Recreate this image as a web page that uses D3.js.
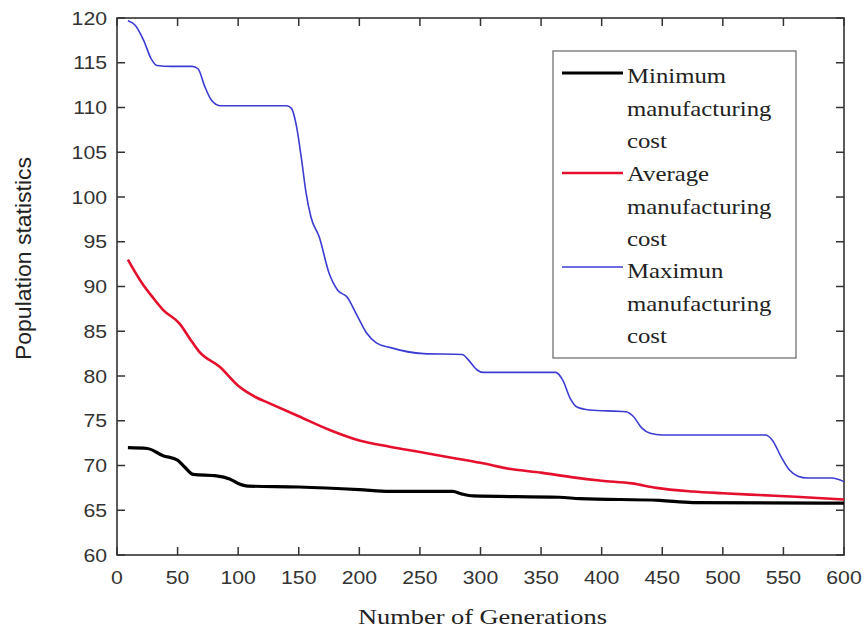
<!DOCTYPE html>
<html><head><meta charset="utf-8">
<script src="https://cdn.jsdelivr.net/npm/d3@7/dist/d3.min.js"></script>
<style>body{margin:0;background:#fff}</style>
</head><body><svg id="c" width="866" height="633"></svg>
<script>
// ---- data ----
const xTicks = [0,50,100,150,200,250,300,350,400,450,500,550,600];
const yTicks = [60,65,70,75,80,85,90,95,100,105,110,115,120];

const minGen = [9,25,38,50,56,63,82,93,100,108,150,200,225,277,285,294,365,382,448,475,600];
const minVal = [72.0,71.9,71.1,70.6,69.8,69.0,68.85,68.5,68.0,67.7,67.6,67.3,67.1,67.1,66.8,66.6,66.45,66.3,66.1,65.85,65.8];

const avgGen = [9,20,30,38,52,60,68,85,100,115,125,150,175,200,225,250,275,300,325,350,375,400,425,445,475,500,530,560,600];
const avgVal = [93.0,90.5,88.7,87.4,85.8,84.2,82.7,81.0,78.9,77.6,77.0,75.5,74.0,72.8,72.1,71.5,70.9,70.3,69.6,69.2,68.7,68.3,68.0,67.5,67.1,66.9,66.7,66.5,66.2];

const maxGen = [9,15,22,28,33,45,62,67,72,78,85,140,144,148,152,156,160,167,175,182,190,198,206,214,225,253,285,290,297,302,362,368,374,380,390,420,426,433,440,450,535,541,548,555,562,570,590,600];
const maxVal = [119.7,119.2,117.5,115.5,114.7,114.6,114.6,114.3,112.5,110.8,110.2,110.2,109.9,108,104.5,100.5,97.8,95.5,91.5,89.6,88.8,86.8,84.8,83.7,83.2,82.5,82.4,81.8,80.7,80.4,80.4,79.5,77.5,76.5,76.2,76.0,75.5,74.2,73.6,73.4,73.4,72.8,71,69.5,68.8,68.6,68.6,68.2];

const seriesNames = [["Minimum","manufacturing","cost"],["Average","manufacturing","cost"],["Maximun","manufacturing","cost"]];
const seriesColors = ["#000000","#e5102e","#3c3cd2"];
const seriesWidths = [3.2,2.6,1.6];

// ---- layout ----
const L=117,R=844,T=18,B=555, SX=1.18;
const svg=d3.select("#c");
const x=d3.scaleLinear().domain([0,600]).range([L,R]);
const y=d3.scaleLinear().domain([60,120]).range([B,T]);
const tickFont="'Liberation Sans', Arial, sans-serif";
const serif="'Liberation Serif','Times New Roman',serif";

// frame
svg.append("rect").attr("x",L).attr("y",T).attr("width",R-L).attr("height",B-T)
  .attr("fill","none").attr("stroke","#333").attr("stroke-width",1.6);

// ticks (inward, all sides)
const tl=8;
xTicks.forEach(v=>{
  const px=x(v);
  svg.append("line").attr("x1",px).attr("x2",px).attr("y1",B).attr("y2",B-tl).attr("stroke","#333").attr("stroke-width",1.5);
  svg.append("line").attr("x1",px).attr("x2",px).attr("y1",T).attr("y2",T+tl).attr("stroke","#333").attr("stroke-width",1.5);
  svg.append("text").attr("transform",`translate(${px},584) scale(${SX},1)`).attr("text-anchor","middle")
    .attr("font-family",tickFont).attr("font-size",18).attr("fill","#333").text(v);
});
yTicks.forEach(v=>{
  const py=y(v);
  svg.append("line").attr("y1",py).attr("y2",py).attr("x1",L).attr("x2",L+tl).attr("stroke","#333").attr("stroke-width",1.5);
  svg.append("line").attr("y1",py).attr("y2",py).attr("x1",R).attr("x2",R-tl).attr("stroke","#333").attr("stroke-width",1.5);
  svg.append("text").attr("transform",`translate(107,${py+6.5}) scale(${SX},1)`).attr("text-anchor","end")
    .attr("font-family",tickFont).attr("font-size",18).attr("fill","#333").text(v);
});

// axis titles
svg.append("text").attr("x",358).attr("y",624)
  .attr("textLength",249).attr("lengthAdjust","spacingAndGlyphs")
  .attr("font-family",serif).attr("font-size",22).attr("fill","#222").text("Number of Generations");
svg.append("text").attr("transform",`translate(31,360) rotate(-90)`)
  .attr("textLength",203).attr("lengthAdjust","spacingAndGlyphs")
  .attr("font-family",tickFont).attr("font-size",22).attr("fill","#222").text("Population statistics");

// lines
const line=d3.line().x(d=>x(d[0])).y(d=>y(d[1])).curve(d3.curveMonotoneX);
const series=[[minGen,minVal],[avgGen,avgVal],[maxGen,maxVal]];
[2,1,0].forEach(i=>{
  const pts=series[i][0].map((g,k)=>[g,series[i][1][k]]);
  svg.append("path").datum(pts).attr("d",line).attr("fill","none")
    .attr("stroke",seriesColors[i]).attr("stroke-width",seriesWidths[i]).attr("stroke-linejoin","round");
});

// legend
svg.append("rect").attr("x",553).attr("y",51).attr("width",243).attr("height",307)
  .attr("fill","#fff").attr("stroke","#666").attr("stroke-width",1.2);
const legLineY=[73,173,267];
const baseY=[83,181,278];
seriesNames.forEach((names,i)=>{
  svg.append("line").attr("x1",562).attr("x2",623).attr("y1",legLineY[i]).attr("y2",legLineY[i])
    .attr("stroke",seriesColors[i]).attr("stroke-width",seriesWidths[i]);
  names.forEach((t,k)=>{
    svg.append("text").attr("transform",`translate(627,${baseY[i]+k*32.5}) scale(${SX},1)`)
      .attr("font-family",serif).attr("font-size",21).attr("fill","#222").text(t);
  });
});
</script></body></html>
